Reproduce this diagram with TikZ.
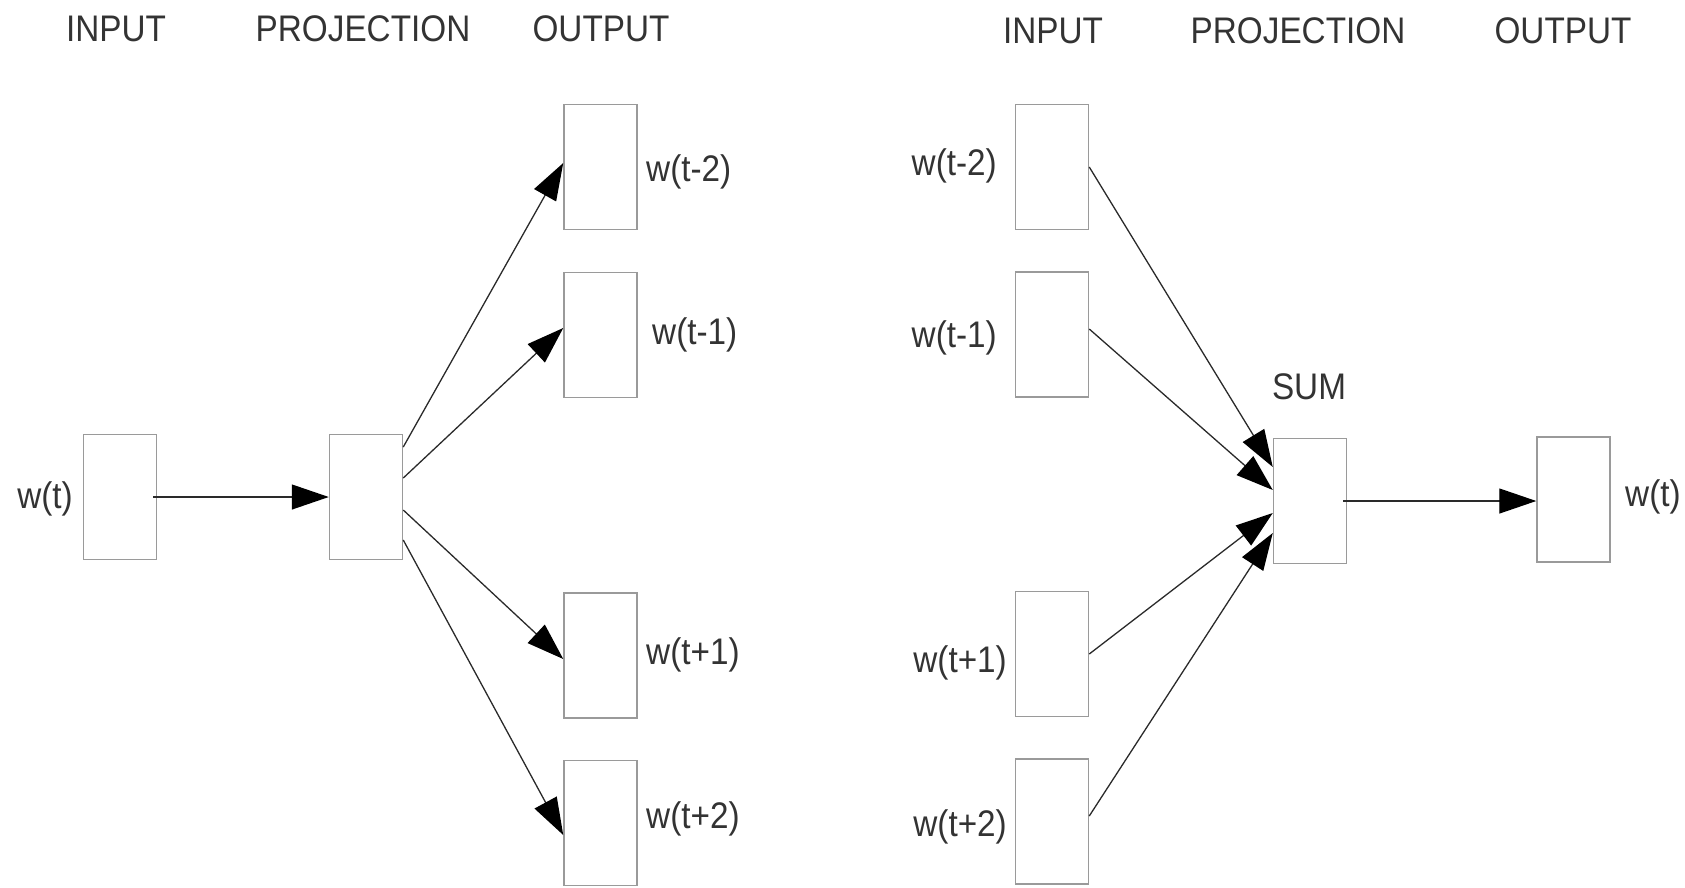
\documentclass[tikz,border=0pt]{standalone}
\usepackage{fontspec}
\setmainfont{Liberation Sans}
\newfontfamily\labfont[FakeStretch=0.9]{Liberation Sans}
\usetikzlibrary{arrows.meta,calc}
\definecolor{boxgray}{HTML}{9A9A9A}
\definecolor{ink}{HTML}{333333}
\definecolor{linegray}{HTML}{2A2A2A}
\begin{document}
\begin{tikzpicture}[x=1pt,y=-1pt,
  wbox/.style={draw=boxgray,line width=1.5pt,minimum width=73pt,minimum height=125pt,inner sep=0pt},
  lab/.style={font=\labfont\fontsize{37}{40}\selectfont,text=ink,inner sep=0pt},
  conn/.style={draw=linegray,line width=1.3pt,-{Triangle[length=37pt,width=25pt,color=black]}}]
\useasboundingbox (0,0) rectangle (1685,887);
% ---------- left: skip-gram ----------
\node[lab] (hL1) at (116,29) {INPUT};
\node[lab] (hL2) at (363,29) {PROJECTION};
\node[lab] (hL3) at (601,29) {OUTPUT};
\node[wbox] (in) at (120,497) {};
\node[wbox] (proj) at (366,497) {};
\node[wbox] (o1) at (600.5,167) {};
\node[wbox] (o2) at (600.5,335) {};
\node[wbox] (o3) at (600.5,655.5) {};
\node[wbox] (o4) at (600.5,823) {};
\node[lab] (lin) at (45,499) {w(t)};
\node[lab,anchor=west] (lo1) at (646,172) {w(t-2)};
\node[lab,anchor=west] (lo2) at (652,335) {w(t-1)};
\node[lab,anchor=west] (lo3) at (646,655) {w(t+1)};
\node[lab,anchor=west] (lo4) at (646,819) {w(t+2)};
\draw[conn] ([xshift=-4pt]in.east) -- (proj.west);
\draw[conn] ([yshift=50pt]proj.east) -- ([yshift=4pt]o1.west);
\draw[conn] ([yshift=19pt]proj.east) -- ([yshift=7pt]o2.west);
\draw[conn] ([yshift=-13pt]proj.east) -- ([yshift=-3.5pt]o3.west);
\draw[conn] ([yshift=-43pt]proj.east) -- ([yshift=-12pt]o4.west);
% ---------- right: CBOW ----------
\node[lab] (hR1) at (1053,31) {INPUT};
\node[lab] (hR2) at (1298,31) {PROJECTION};
\node[lab] (hR3) at (1563,31) {OUTPUT};
\node[wbox] (i1) at (1052,167) {};
\node[wbox] (i2) at (1052,334.5) {};
\node[wbox] (i3) at (1052,654) {};
\node[wbox] (i4) at (1052,821.5) {};
\node[wbox] (sum) at (1310,501) {};
\node[wbox] (out) at (1573.5,499.5) {};
\node[lab] (lsum) at (1309,387) {SUM};
\node[lab,anchor=east] (li1) at (997,166) {w(t-2)};
\node[lab,anchor=east] (li2) at (997,338) {w(t-1)};
\node[lab,anchor=east] (li3) at (1007,663) {w(t+1)};
\node[lab,anchor=east] (li4) at (1007,827) {w(t+2)};
\node[lab,anchor=west] (lout) at (1625,497) {w(t)};
\draw[conn] (i1.east) -- ([yshift=34pt]sum.west);
\draw[conn] ([yshift=5.5pt]i2.east) -- ([yshift=11pt]sum.west);
\draw[conn] (i3.east) -- ([yshift=-12pt]sum.west);
\draw[conn] ([yshift=5.5pt]i4.east) -- ([yshift=-32pt]sum.west);
\draw[conn] ([xshift=-4pt]sum.east) -- (sum.east -| out.west);
\end{tikzpicture}
\end{document}
